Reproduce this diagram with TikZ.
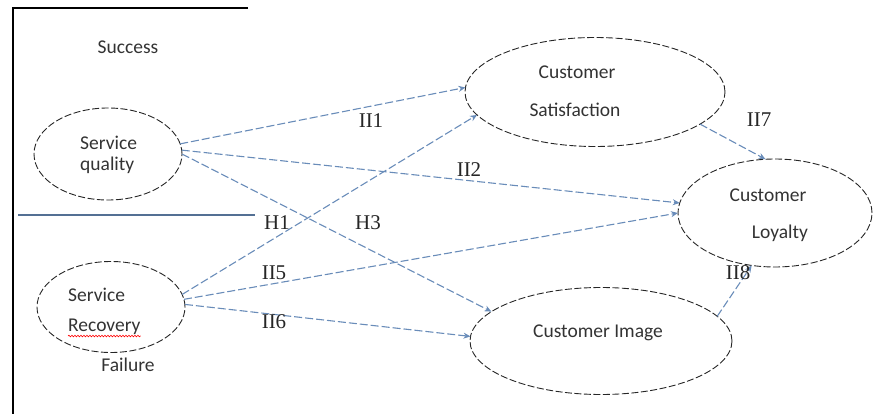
\documentclass[tikz,border=0pt]{standalone}
\usepackage{fontspec}
\setmainfont{Carlito}
\newfontfamily\hfont{Liberation Serif}
\usetikzlibrary{shapes.geometric,arrows.meta,decorations.pathmorphing}
\definecolor{arrowc}{RGB}{105,140,185}
\begin{document}
\begin{tikzpicture}[x=1pt,y=-1pt,
 blob/.style={ellipse, draw=black!85, dash pattern=on 7pt off 2.5pt, line width=0.9pt, inner sep=0pt, outer sep=0pt},
 hyp/.style={draw=arrowc, line width=1.1pt, dash pattern=on 8pt off 3pt, -{Stealth[length=7pt,width=6pt]}},
 lbl/.style={font=\fontsize{19.5}{22}\selectfont, text=black!80, inner sep=0pt},
 hlbl/.style={font=\hfont\fontsize{21}{24}\selectfont, text=black!85, inner sep=0pt},
 framel/.style={draw=black, line width=1.3pt}]
\useasboundingbox (0,0) rectangle (873,414);

% frame
\coordinate (ftl) at (13,8);
\coordinate (ftr) at (248,8);
\coordinate (fbl) at (13,414);
\draw[framel] (ftr) -- (ftl) -- (fbl);
\coordinate (hl1) at (18,215);
\coordinate (hl2) at (255,215);
\draw[draw=arrowc!80!black, line width=1.2pt] (hl1) -- (hl2);

% ellipses
\node[blob, minimum width=148pt, minimum height=92pt] (sq) at (108,154) {};
\node[blob, minimum width=148pt, minimum height=91pt] (sr) at (111,307) {};
\node[blob, minimum width=260pt, minimum height=109pt] (cs) at (595,92) {};
\node[blob, minimum width=194pt, minimum height=108pt] (cl) at (775,213) {};
\node[blob, minimum width=262pt, minimum height=107pt] (ci) at (601,341) {};

% texts
\node[lbl] (tsuccess) at (128,47) {Success};
\node[lbl] (tfail) at (128,365) {Failure};
\node[lbl, anchor=west] (sq1) at (80,143) {Service};
\node[lbl, anchor=west] (sq2) at (80,165) {quality};
\node[lbl, anchor=west] (sr1) at (68,295) {Service};
\node[lbl, anchor=west] (sr2) at (68,327) {Recovery};
\node[lbl] (cs1) at (577,72) {Customer};
\node[lbl] (cs2) at (575,110) {Satisfaction};
\node[lbl] (cl1) at (768,195) {Customer};
\node[lbl] (cl2) at (780,233) {Loyalty};
\node[lbl] (ci1) at (598,333) {Customer Image};
\draw[red, line width=0.6pt, decorate, decoration={snake, amplitude=0.8pt, segment length=3pt}]
  ([yshift=-1pt]sr2.south west) -- ([yshift=-1pt]sr2.south east);

% hypotheses
\draw[hyp] (sq.8) -- (cs.178);
\draw[hyp] (sq.3) -- (cl.174);
\draw[hyp] (sq.0) -- (ci.165);
\draw[hyp] (sr.10) -- (cs.191);
\draw[hyp] (sr.6) -- (cl.180);
\draw[hyp] (sr.2) -- (ci.178);
\draw[hyp] (cs.-17) -- (cl.100);
\draw[hyp] (ci.12) -- (cl.246);

% labels
\node[hlbl] (h1a) at (371,121) {II1};
\node[hlbl] (h2) at (469,170) {II2};
\node[hlbl] (h1b) at (277,223) {H1};
\node[hlbl] (h3) at (368,223) {H3};
\node[hlbl] (h5) at (274,273) {II5};
\node[hlbl] (h6) at (274,322) {II6};
\node[hlbl] (h7) at (759,120) {II7};
\node[hlbl] (h8) at (738,273) {II8};
\end{tikzpicture}
\end{document}
